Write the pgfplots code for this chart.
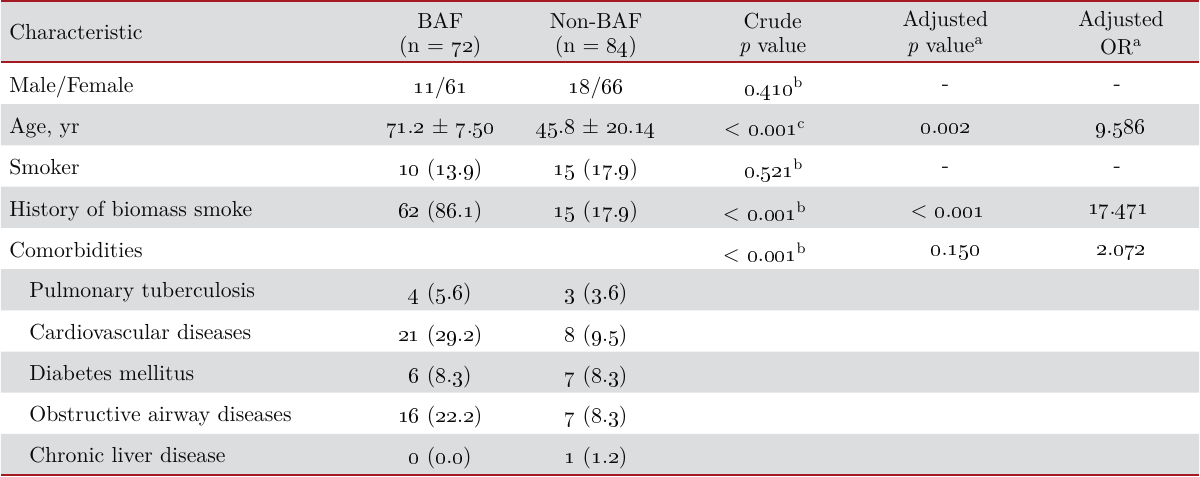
\documentclass[border=0pt]{standalone}
\usepackage{pgfplots}
\pgfplotsset{compat=1.18}
\definecolor{tabred}{RGB}{165,25,35}
\definecolor{rowgray}{RGB}{220,221,222}
\definecolor{txt}{RGB}{10,10,10}
\newcommand{\on}[1]{\oldstylenums{#1}}
\begin{document}
\begin{tikzpicture}
\tikzset{cell/.style={font=\fontsize{10.9bp}{12bp}\selectfont, inner sep=0pt, text=txt, yshift=-1.1bp}}
\begin{axis}[
  width=600bp, height=238.5bp, scale only axis,
  xmin=0, xmax=1200, ymin=0, ymax=477, y dir=reverse,
  axis lines=none, clip=false,
]
% shaded rows
\addplot[fill=rowgray, draw=none] coordinates {(0,2) (1200,2) (1200,62) (0,62) (0,2)};
\addplot[fill=rowgray, draw=none] coordinates {(0,104.3) (1200,104.3) (1200,145.6) (0,145.6) (0,104.3)};
\addplot[fill=rowgray, draw=none] coordinates {(0,186.9) (1200,186.9) (1200,228.2) (0,228.2) (0,186.9)};
\addplot[fill=rowgray, draw=none] coordinates {(0,269.5) (1200,269.5) (1200,310.8) (0,310.8) (0,269.5)};
\addplot[fill=rowgray, draw=none] coordinates {(0,352.1) (1200,352.1) (1200,393.4) (0,393.4) (0,352.1)};
\addplot[fill=rowgray, draw=none] coordinates {(0,434.7) (1200,434.7) (1200,475.5) (0,475.5) (0,434.7)};
% rules
\addplot[draw=tabred, line width=1bp] coordinates {(0,1) (1200,1)};
\addplot[draw=tabred, line width=1bp] coordinates {(0,62.5) (1200,62.5)};
\addplot[draw=tabred, line width=1bp] coordinates {(0,476) (1200,476)};
% header
\node[cell, anchor=mid west] at (axis cs:8,33) {Characteristic};
\node[cell] at (axis cs:440,19) {BAF};
\node[cell] at (axis cs:440,45) {(n = \on{72})};
\node[cell] at (axis cs:596,19) {Non-BAF};
\node[cell] at (axis cs:596,45) {(n = \on{84})};
\node[cell] at (axis cs:773,19) {Crude};
\node[cell] at (axis cs:773,45) {\textit{p} value};
\node[cell] at (axis cs:946,19) {Adjusted};
\node[cell] at (axis cs:946,45) {\textit{p} value\textsuperscript{a}};
\node[cell] at (axis cs:1122,19) {Adjusted};
\node[cell] at (axis cs:1122,45) {OR\textsuperscript{a}};
% column 1
\node[cell, anchor=mid west] at (axis cs:8,86) {Male/Female};
\node[cell, anchor=mid west] at (axis cs:8,127) {Age, yr};
\node[cell, anchor=mid west] at (axis cs:8,168) {Smoker};
\node[cell, anchor=mid west] at (axis cs:8,210) {History of biomass smoke};
\node[cell, anchor=mid west] at (axis cs:8,251) {Comorbidities};
\node[cell, anchor=mid west] at (axis cs:28,292) {Pulmonary tuberculosis};
\node[cell, anchor=mid west] at (axis cs:28,334) {Cardiovascular diseases};
\node[cell, anchor=mid west] at (axis cs:28,375) {Diabetes mellitus};
\node[cell, anchor=mid west] at (axis cs:28,416) {Obstructive airway diseases};
\node[cell, anchor=mid west] at (axis cs:28,457) {Chronic liver disease};
% BAF
\node[cell] at (axis cs:440,86) {\on{11}/\on{61}};
\node[cell] at (axis cs:440,127) {\on{71}.\on{2} $\pm$ \on{7}.\on{50}};
\node[cell] at (axis cs:440,168) {\on{10} (\on{13}.\on{9})};
\node[cell] at (axis cs:440,210) {\on{62} (\on{86}.\on{1})};
\node[cell] at (axis cs:440,292) {\on{4} (\on{5}.\on{6})};
\node[cell] at (axis cs:440,334) {\on{21} (\on{29}.\on{2})};
\node[cell] at (axis cs:440,375) {\on{6} (\on{8}.\on{3})};
\node[cell] at (axis cs:440,416) {\on{16} (\on{22}.\on{2})};
\node[cell] at (axis cs:440,457) {\on{0} (\on{0}.\on{0})};
% Non-BAF
\node[cell] at (axis cs:596,86) {\on{18}/\on{66}};
\node[cell] at (axis cs:596,127) {\on{45}.\on{8} $\pm$ \on{20}.\on{14}};
\node[cell] at (axis cs:596,168) {\on{15} (\on{17}.\on{9})};
\node[cell] at (axis cs:596,210) {\on{15} (\on{17}.\on{9})};
\node[cell] at (axis cs:596,292) {\on{3} (\on{3}.\on{6})};
\node[cell] at (axis cs:596,334) {\on{8} (\on{9}.\on{5})};
\node[cell] at (axis cs:596,375) {\on{7} (\on{8}.\on{3})};
\node[cell] at (axis cs:596,416) {\on{7} (\on{8}.\on{3})};
\node[cell] at (axis cs:596,457) {\on{1} (\on{1}.\on{2})};
% Crude p
\node[cell] at (axis cs:774,86) {\on{0}.\on{410}\textsuperscript{b}};
\node[cell] at (axis cs:765,127) {$<$ \on{0}.\on{001}\textsuperscript{c}};
\node[cell] at (axis cs:774,168) {\on{0}.\on{521}\textsuperscript{b}};
\node[cell] at (axis cs:765,210) {$<$ \on{0}.\on{001}\textsuperscript{b}};
\node[cell] at (axis cs:765,251) {$<$ \on{0}.\on{001}\textsuperscript{b}};
% Adjusted p
\node[cell] at (axis cs:946,86) {-};
\node[cell] at (axis cs:946,127) {\on{0}.\on{002}};
\node[cell] at (axis cs:946,168) {-};
\node[cell] at (axis cs:948,210) {$<$ \on{0}.\on{001}};
\node[cell] at (axis cs:956,251) {\on{0}.\on{150}};
% Adjusted OR
\node[cell] at (axis cs:1118,86) {-};
\node[cell] at (axis cs:1121,127) {\on{9}.\on{586}};
\node[cell] at (axis cs:1118,168) {-};
\node[cell] at (axis cs:1119,210) {\on{17}.\on{471}};
\node[cell] at (axis cs:1122,251) {\on{2}.\on{072}};
\end{axis}
\end{tikzpicture}
\end{document}
